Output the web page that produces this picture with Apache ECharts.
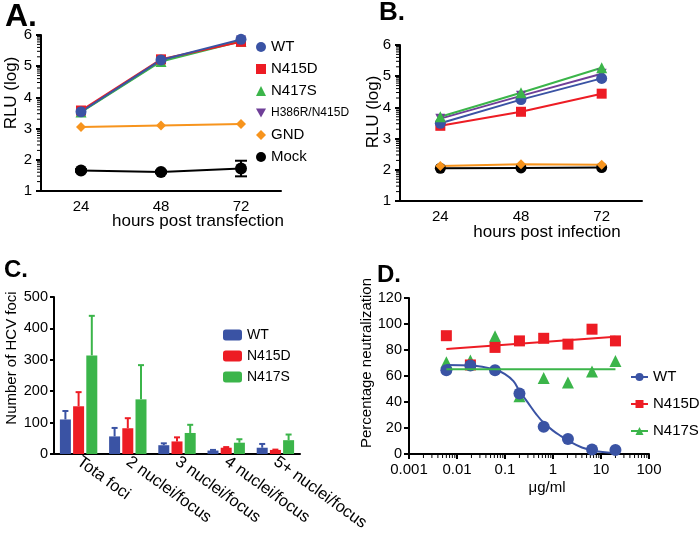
<!DOCTYPE html>
<html>
<head>
<meta charset="utf-8">
<title>E2 glycan mutants</title>
<script src="https://cdn.jsdelivr.net/npm/echarts@6/dist/echarts.min.js"></script>
<style>html, body { margin: 0; padding: 0; background: #fff; }</style>
</head>
<body>
<div id="main" style="width:700px;height:537px;"></div>
<script>
// A: hours post transfection (RLU, log)
var hours = ['24', '48', '72'];
var aWT = [3.54, 5.2, 5.86];
var aN415D = [3.58, 5.22, 5.78];
var aN417S = [3.53, 5.15, 5.8];
var aH386R = [3.54, 5.18, 5.82];
var aGND = [3.05, 3.1, 3.15];
var aMock = [1.66, 1.61, 1.72];
var aMockErr = [0.04, 0.04, 0.25];

// B: hours post infection
var bWT = [3.49, 4.25, 4.93];
var bN415D = [3.41, 3.86, 4.44];
var bN417S = [3.7, 4.47, 5.27];
var bH386R = [3.64, 4.37, 5.08];
var bGND = [2.12, 2.18, 2.16];
var bMock = [2.05, 2.06, 2.07];

// C: number of HCV foci (mean + upper error)
var fociCats = ['Tota foci', '2 nuclei/focus', '3 nuclei/focus', '4 nuclei/focus', '5+ nuclei/focus'];
var cWT = [110, 56, 28, 11, 20];
var cWTErr = [27, 27, 6, 2, 12];
var cN415D = [152, 82, 40, 20, 13];
var cN415DErr = [45, 32, 13, 2, 1];
var cN417S = [314, 174, 67, 36, 44];
var cN417SErr = [126, 109, 26, 11, 18];

// D: neutralization vs antibody concentration
var conc = [0.006, 0.019, 0.062, 0.2, 0.64, 2.05, 6.5, 20];
var dWT = [64.5, 68, 64.5, 46.5, 21, 11.5, 3.5, 3];
var dN415D = [91, 68.5, 82, 87, 89, 84.5, 96, 87];
var dN417S = [70.5, 72, 90.5, 44.5, 58.5, 55, 63.5, 71.5];
// fitted curves
var wtFitX = [0.006, 0.02, 0.06, 0.1, 0.15, 0.2, 0.3, 0.45, 0.64, 1.0, 1.5, 2.0, 4.0, 8.0, 20];
var wtFitY = [68.5, 68, 65, 61.5, 56, 48.5, 39.5, 30.5, 24, 18, 13.5, 10.5, 5, 2.2, 0.8];
var redFitX = [0.006, 20];
var redFitY = [80.8, 90.2];
var greenFitX = [0.006, 20];
var greenFitY = [65.2, 65.2];

// log-style minor tick positions
var logMinor = [0.301, 0.477, 0.602, 0.699, 0.778, 0.845, 0.903, 0.954];
var rluUnits = [1, 2, 3, 4, 5];
var concMult = [2, 3, 4, 5, 6, 7, 8, 9];
var concDecades = [0.001, 0.01, 0.1, 1, 10];

var BLUE = '#3a53a4', RED = '#ed1c24', GREEN = '#3bb54a', PURPLE = '#6f3f98', ORANGE = '#f7941d';
var FONT = 'Liberation Sans, Arial, Helvetica, sans-serif';
var invTri = 'path://M0,0 L10,0 L5,9 Z';

function pairs(xs, ys) {
    return xs.map(function (x, i) { return [x, ys[i]]; });
}

function lineS(name, data, color, symbol, size, idx) {
    return {
        name: name, type: 'line', data: data,
        xAxisIndex: idx, yAxisIndex: idx,
        symbol: symbol, symbolSize: size,
        lineStyle: { color: color, width: 2 },
        itemStyle: { color: color },
        emphasis: { disabled: true }
    };
}

// offset === null: symmetric bar (A mock), otherwise upper bar shifted by offset px
function errBars(offset, color, cap) {
    return function (params, api) {
        var c = api.value(0), v = api.value(1), e = api.value(2);
        var lo = api.coord([c, v - (offset === null ? e : 0)]);
        var hi = api.coord([c, v + e]);
        var x = lo[0] + (offset || 0);
        var st = { stroke: color, lineWidth: 2 };
        var children = [
            { type: 'line', shape: { x1: x, y1: lo[1], x2: x, y2: hi[1] }, style: st },
            { type: 'line', shape: { x1: x - cap, y1: hi[1], x2: x + cap, y2: hi[1] }, style: st }
        ];
        if (offset === null) {
            children.push({ type: 'line', shape: { x1: x - cap, y1: lo[1], x2: x + cap, y2: lo[1] }, style: st });
        }
        return { type: 'group', children: children };
    };
}

function errData(vals, errs) {
    return vals.map(function (v, i) { return [i, v, errs[i]]; });
}

// minor ticks, placed through the axis scales
var yMinor = [];
rluUnits.forEach(function (u) { logMinor.forEach(function (m) { yMinor.push([0, u + m]); }); });
var xMinor = [];
concDecades.forEach(function (d) { concMult.forEach(function (m) { xMinor.push([d * m, 0]); }); });

var TICK_LEN = 4;
function yTick(params, api) {
    var cs = params.coordSys;
    var y = api.coord([0, api.value(1)])[1];
    return { type: 'line', shape: { x1: cs.x - TICK_LEN, y1: y, x2: cs.x, y2: y }, style: { stroke: '#000', lineWidth: 1 } };
}
function xTick(params, api) {
    var cs = params.coordSys;
    var x = api.coord([api.value(0), 0])[0];
    var y = cs.y + cs.height;
    return { type: 'line', shape: { x1: x, y1: y, x2: x, y2: y + TICK_LEN }, style: { stroke: '#000', lineWidth: 1 } };
}
function minorS(name, idx, render, data) {
    return { name: name, type: 'custom', xAxisIndex: idx, yAxisIndex: idx, renderItem: render, data: data, clip: false, silent: true };
}

var axisLine = { show: true, lineStyle: { color: '#000', width: 2 } };
var tick = { show: true, length: 5, lineStyle: { color: '#000', width: 2 } };

function rluY(grid) {
    return {
        gridIndex: grid, type: 'value', min: 1, max: 6, interval: 1,
        axisLine: axisLine, axisTick: tick,
        axisLabel: { fontSize: 15, color: '#000', fontFamily: FONT, margin: 9 },
        splitLine: { show: false }
    };
}

function hoursX(grid) {
    return {
        gridIndex: grid, type: 'category', data: hours, boundaryGap: true,
        axisLine: axisLine,
        axisTick: { alignWithLabel: true, length: 5, lineStyle: { color: '#000', width: 2 } },
        axisLabel: { fontSize: 15, color: '#000', fontFamily: FONT, margin: 8 }
    };
}

var myChart = echarts.init(document.getElementById('main'));

var option = {
    animation: false,
    backgroundColor: '#fff',
    textStyle: { fontFamily: FONT },
    grid: [
        { left: 41, top: 35, width: 240, height: 156 },
        { left: 400, top: 45, width: 242, height: 156 },
        { left: 54, top: 297, width: 246, height: 157 },
        { left: 409, top: 298, width: 240, height: 156 }
    ],
    xAxis: [
        hoursX(0),
        hoursX(1),
        {
            gridIndex: 2, type: 'category', data: fociCats,
            axisLine: axisLine,
            axisTick: { alignWithLabel: true, length: 5, lineStyle: { color: '#000', width: 2 } },
            axisLabel: { rotate: -36, interval: 0, fontSize: 16.5, color: '#000', fontFamily: FONT, margin: 6 }
        },
        {
            gridIndex: 3, type: 'log', logBase: 10, min: 0.001, max: 100,
            axisLine: axisLine,
            axisTick: tick,
            axisLabel: {
                fontSize: 15, color: '#000', fontFamily: FONT, margin: 8,
                formatter: function (v) { return String(+v.toPrecision(2)); }
            },
            splitLine: { show: false }
        }
    ],
    yAxis: [
        rluY(0),
        rluY(1),
        {
            gridIndex: 2, type: 'value', min: 0, max: 500, interval: 100,
            axisLine: axisLine,
            axisTick: { show: true, length: 4, lineStyle: { color: '#000', width: 2 } },
            axisLabel: { fontSize: 14.5, color: '#000', fontFamily: FONT, margin: 6 },
            splitLine: { show: false }
        },
        {
            gridIndex: 3, type: 'value', min: 0, max: 120, interval: 20,
            axisLine: axisLine, axisTick: tick,
            axisLabel: { fontSize: 14.5, color: '#000', fontFamily: FONT, margin: 7 },
            splitLine: { show: false }
        }
    ],
    legend: [
        {
            left: 256, top: 39, padding: 0, orient: 'vertical', itemWidth: 10, itemHeight: 10, itemGap: 6,
            selectedMode: false,
            formatter: function (n) { return n.slice(2); },
            textStyle: { fontSize: 15, lineHeight: 16, color: '#000', fontFamily: FONT },
            data: [
                { name: 'A-WT', icon: 'circle' },
                { name: 'A-N415D', icon: 'rect' },
                { name: 'A-N417S', icon: 'triangle' },
                { name: 'A-H386R/N415D', icon: invTri, textStyle: { fontSize: 12, lineHeight: 16 } },
                { name: 'A-GND', icon: 'diamond' },
                { name: 'A-Mock', icon: 'circle' }
            ]
        },
        {
            left: 223, top: 328, padding: 0, orient: 'vertical', itemWidth: 19, itemHeight: 11, itemGap: 7,
            selectedMode: false,
            formatter: function (n) { return n.slice(2); },
            textStyle: { fontSize: 14, lineHeight: 14, color: '#000', fontFamily: FONT },
            data: ['C-WT', 'C-N415D', 'C-N417S']
        },
        {
            left: 630, top: 368, padding: 0, orient: 'vertical', itemWidth: 17, itemHeight: 10, itemGap: 9,
            selectedMode: false,
            formatter: function (n) { return n.slice(2); },
            textStyle: { fontSize: 15, lineHeight: 18, color: '#000', fontFamily: FONT },
            data: ['D-WT', 'D-N415D', 'D-N417S']
        }
    ],
    series: [
        minorS('A-minor', 0, yTick, yMinor),
        minorS('B-minor', 1, yTick, yMinor),
        minorS('D-minor', 3, xTick, xMinor),
        // A
        lineS('A-GND', aGND, ORANGE, 'diamond', 10, 0),
        lineS('A-Mock', aMock, '#000', 'circle', 12, 0),
        {
            name: 'A-Mock err', type: 'custom', xAxisIndex: 0, yAxisIndex: 0,
            renderItem: errBars(null, '#000', 6), data: errData(aMock, aMockErr), z: 3
        },
        lineS('A-H386R/N415D', aH386R, PURPLE, invTri, 10, 0),
        lineS('A-N417S', aN417S, GREEN, 'triangle', 11, 0),
        lineS('A-N415D', aN415D, RED, 'rect', 10, 0),
        lineS('A-WT', aWT, BLUE, 'circle', 11, 0),
        // B
        lineS('B-Mock', bMock, '#000', 'circle', 11, 1),
        lineS('B-GND', bGND, ORANGE, 'diamond', 10, 1),
        lineS('B-N415D', bN415D, RED, 'rect', 10, 1),
        lineS('B-H386R/N415D', bH386R, PURPLE, invTri, 10, 1),
        lineS('B-WT', bWT, BLUE, 'circle', 11, 1),
        lineS('B-N417S', bN417S, GREEN, 'triangle', 11, 1),
        // C
        { name: 'C-WT', type: 'bar', xAxisIndex: 2, yAxisIndex: 2, data: cWT, barWidth: 11, barGap: '20%', itemStyle: { color: BLUE } },
        { name: 'C-N415D', type: 'bar', xAxisIndex: 2, yAxisIndex: 2, data: cN415D, barWidth: 11, barGap: '20%', itemStyle: { color: RED } },
        { name: 'C-N417S', type: 'bar', xAxisIndex: 2, yAxisIndex: 2, data: cN417S, barWidth: 11, barGap: '20%', itemStyle: { color: GREEN } },
        { name: 'C-WT err', type: 'custom', xAxisIndex: 2, yAxisIndex: 2, renderItem: errBars(-13.2, BLUE, 3), data: errData(cWT, cWTErr) },
        { name: 'C-N415D err', type: 'custom', xAxisIndex: 2, yAxisIndex: 2, renderItem: errBars(0, RED, 3), data: errData(cN415D, cN415DErr) },
        { name: 'C-N417S err', type: 'custom', xAxisIndex: 2, yAxisIndex: 2, renderItem: errBars(13.2, GREEN, 3), data: errData(cN417S, cN417SErr) },
        // D fits (legend entries)
        {
            name: 'D-WT', type: 'line', xAxisIndex: 3, yAxisIndex: 3, data: pairs(wtFitX, wtFitY),
            smooth: 0.4, showSymbol: false, symbol: 'circle', symbolSize: 10,
            lineStyle: { color: BLUE, width: 2 }, itemStyle: { color: BLUE }
        },
        {
            name: 'D-N415D', type: 'line', xAxisIndex: 3, yAxisIndex: 3, data: pairs(redFitX, redFitY),
            showSymbol: false, symbol: 'rect', symbolSize: 10,
            lineStyle: { color: RED, width: 2 }, itemStyle: { color: RED }
        },
        {
            name: 'D-N417S', type: 'line', xAxisIndex: 3, yAxisIndex: 3, data: pairs(greenFitX, greenFitY),
            showSymbol: false, symbol: 'triangle', symbolSize: 11,
            lineStyle: { color: GREEN, width: 2 }, itemStyle: { color: GREEN }
        },
        // D points
        { name: 'D-N417S pts', type: 'scatter', xAxisIndex: 3, yAxisIndex: 3, data: pairs(conc, dN417S), symbol: 'triangle', symbolSize: 12, itemStyle: { color: GREEN, opacity: 1 } },
        { name: 'D-N415D pts', type: 'scatter', xAxisIndex: 3, yAxisIndex: 3, data: pairs(conc, dN415D), symbol: 'rect', symbolSize: 11, itemStyle: { color: RED, opacity: 1 } },
        { name: 'D-WT pts', type: 'scatter', xAxisIndex: 3, yAxisIndex: 3, data: pairs(conc, dWT), symbol: 'circle', symbolSize: 12, itemStyle: { color: BLUE, opacity: 1 } }
    ],
    graphic: [
        { type: 'text', x: 5, y: 17, style: { text: 'A.', font: 'bold 32px ' + FONT, fill: '#000', verticalAlign: 'middle' } },
        { type: 'text', x: 379, y: 13, style: { text: 'B.', font: 'bold 26px ' + FONT, fill: '#000', verticalAlign: 'middle' } },
        { type: 'text', x: 4, y: 270, style: { text: 'C.', font: 'bold 24px ' + FONT, fill: '#000', verticalAlign: 'middle' } },
        { type: 'text', x: 377, y: 275, style: { text: 'D.', font: 'bold 24px ' + FONT, fill: '#000', verticalAlign: 'middle' } },
        { type: 'text', x: 198, y: 221, style: { text: 'hours post transfection', font: '17px ' + FONT, fill: '#000', align: 'center', verticalAlign: 'middle' } },
        { type: 'text', x: 547, y: 232, style: { text: 'hours post infection', font: '17px ' + FONT, fill: '#000', align: 'center', verticalAlign: 'middle' } },
        { type: 'text', x: 547, y: 488, style: { text: '\u03bcg/ml', font: '15px ' + FONT, fill: '#000', align: 'center', verticalAlign: 'middle' } },
        { type: 'text', x: 11, y: 93, rotation: Math.PI / 2, style: { text: 'RLU (log)', font: '17px ' + FONT, fill: '#000', align: 'center', verticalAlign: 'middle' } },
        { type: 'text', x: 373, y: 112, rotation: Math.PI / 2, style: { text: 'RLU (log)', font: '17px ' + FONT, fill: '#000', align: 'center', verticalAlign: 'middle' } },
        { type: 'text', x: 12, y: 358, rotation: Math.PI / 2, style: { text: 'Number of HCV foci', font: '15px ' + FONT, fill: '#000', align: 'center', verticalAlign: 'middle' } },
        { type: 'text', x: 367, y: 363, rotation: Math.PI / 2, style: { text: 'Percentage neutralization', font: '15px ' + FONT, fill: '#000', align: 'center', verticalAlign: 'middle' } }
    ]
};
myChart.setOption(option);
</script>
</body>
</html>
